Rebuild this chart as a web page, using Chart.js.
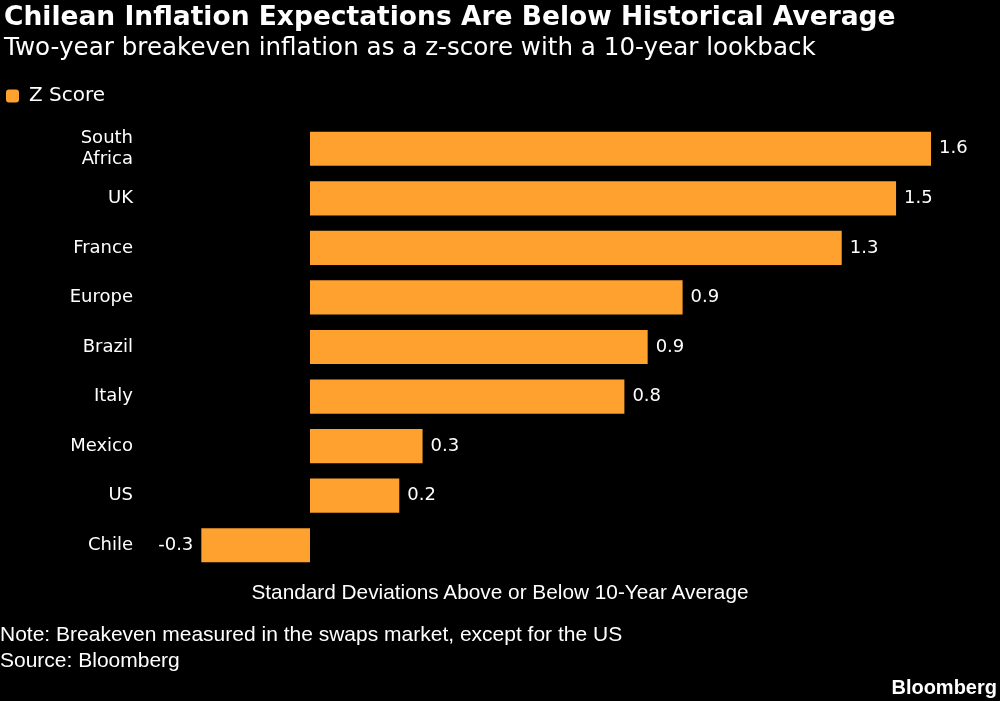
<!DOCTYPE html>
<html>
<head>
<meta charset="utf-8">
<script src="https://cdn.jsdelivr.net/npm/chart.js@4.4.1/dist/chart.umd.min.js"></script>
<style>
  html, body { margin: 0; padding: 0; background: #000; }
  body { width: 1000px; height: 701px; position: relative; overflow: hidden; color: #fff; }
  #chart { position: absolute; left: 0; top: 0; }
  .txt { position: absolute; white-space: nowrap; }
  #title { left: 4px; top: 0px; font: bold 26.5px "DejaVu Sans", sans-serif; }
  #subtitle { left: 4px; top: 32px; font: 24.6px "DejaVu Sans", sans-serif; }
  #axisTitle { left: 0; width: 1000px; text-align: center; top: 580px; font: 20.8px "Liberation Sans Narrow", sans-serif; }
  #note { left: 0; top: 622px; font: 21px "Liberation Sans Narrow", sans-serif; }
  #source { left: 0; top: 648px; font: 21px "Liberation Sans Narrow", sans-serif; }
  #brand { right: 3px; top: 676px; font: bold 20px "Liberation Sans Narrow", sans-serif; }
</style>
</head>
<body>
<canvas id="chart" width="1000" height="701"></canvas>
<div class="txt" id="title">Chilean Inflation Expectations Are Below Historical Average</div>
<div class="txt" id="subtitle">Two-year breakeven inflation as a z-score with a 10-year lookback</div>
<div class="txt" id="axisTitle">Standard Deviations Above or Below 10-Year Average</div>
<div class="txt" id="note">Note: Breakeven measured in the swaps market, except for the US</div>
<div class="txt" id="source">Source: Bloomberg</div>
<div class="txt" id="brand">Bloomberg</div>
<script>
const countries = [['South', 'Africa'], 'UK', 'France', 'Europe', 'Brazil', 'Italy', 'Mexico', 'US', 'Chile'];
const zScores = [1.6, 1.51, 1.37, 0.96, 0.87, 0.81, 0.29, 0.23, -0.28];
const zLabels = ['1.6', '1.5', '1.3', '0.9', '0.9', '0.8', '0.3', '0.2', '-0.3'];

const orange = '#FFA12E';

// value labels next to the bar ends
const valueLabels = {
  id: 'valueLabels',
  afterDatasetsDraw(chart) {
    const ctx = chart.ctx;
    const meta = chart.getDatasetMeta(0);
    ctx.save();
    ctx.font = '18px "DejaVu Sans", sans-serif';
    ctx.fillStyle = '#fff';
    ctx.textBaseline = 'middle';
    meta.data.forEach((bar, i) => {
      const neg = zScores[i] < 0;
      ctx.textAlign = neg ? 'right' : 'left';
      ctx.fillText(zLabels[i], bar.x + (neg ? -8 : 8), bar.y);
    });
    ctx.restore();
  }
};

// extra space under the legend
const legendGap = {
  id: 'legendGap',
  beforeInit(chart) {
    const fit = chart.legend.fit;
    chart.legend.fit = function () {
      fit.bind(chart.legend)();
      this.height += 8;
    };
  }
};

new Chart(document.getElementById('chart'), {
  type: 'bar',
  data: {
    labels: countries,
    datasets: [{
      label: 'Z Score',
      data: zScores,
      backgroundColor: orange,
      borderWidth: 0,
      barPercentage: 0.69,
      categoryPercentage: 1
    }]
  },
  options: {
    indexAxis: 'y',
    responsive: false,
    animation: false,
    layout: { padding: { top: 80, left: 0, right: 10, bottom: 131 } },
    plugins: {
      legend: {
        display: true,
        position: 'top',
        align: 'start',
        labels: {
          color: '#fff',
          font: { size: 20, family: '"DejaVu Sans", sans-serif' },
          boxWidth: 13,
          boxHeight: 13,
          useBorderRadius: true,
          borderRadius: 3,
          padding: 6
        }
      },
      tooltip: { enabled: false }
    },
    scales: {
      x: {
        min: -0.438,
        max: 1.752,
        display: false
      },
      y: {
        grid: { display: false, drawTicks: false },
        border: { display: false },
        ticks: {
          color: '#fff',
          font: { size: 18, family: '"DejaVu Sans", sans-serif' },
          padding: 7,
          autoSkip: false
        },
        afterFit(scale) { scale.width = 140; }
      }
    }
  },
  plugins: [valueLabels, legendGap]
});
</script>
</body>
</html>
